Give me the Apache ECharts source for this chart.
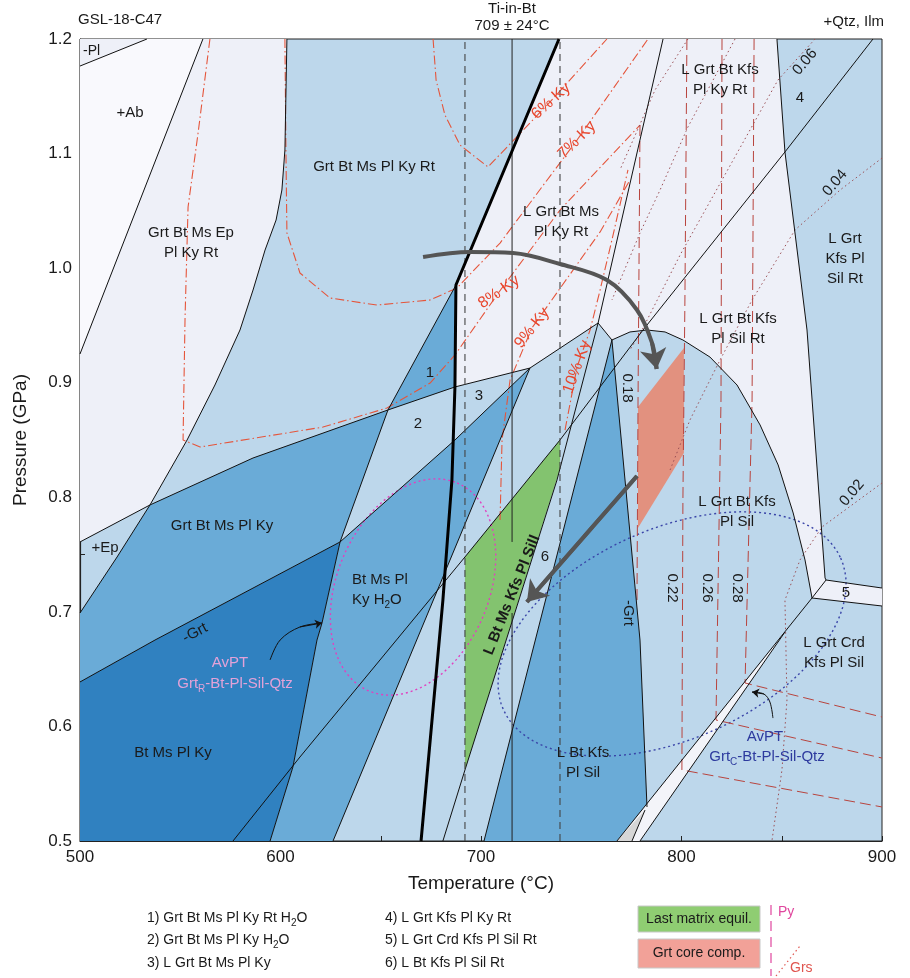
<!DOCTYPE html>
<html>
<head>
<meta charset="utf-8">
<script src="https://cdn.jsdelivr.net/npm/echarts@6/dist/echarts.min.js"></script>
<style>
  html, body { margin: 0; padding: 0; background: #fff; }
  #main { width: 910px; height: 978px; }
</style>
</head>
<body>
<div id="main"></div>
<script>
// axis ticks
const tempTicks = [500, 600, 700, 800, 900];
const pressTicks = [0.5, 0.6, 0.7, 0.8, 0.9, 1.0, 1.1, 1.2];

// field boundaries [T (°C), P (GPa)]
const plLine = [[500, 1.1764], [533.4, 1.2]];
const abLine = [[561.3, 1.2], [500, 0.9251]];
const epOutCurve = [[603.2, 1.2], [602.2, 1.1031], [600.7, 1.0682], [597.8, 1.042], [592.3, 1.0158], [586.3, 0.9809], [579.8, 0.946], [567.3, 0.898], [553.4, 0.85], [534.9, 0.7933], [518.5, 0.7479], [500, 0.699]];
const lineB = [[500, 0.761], [534.9, 0.7933], [586.3, 0.8343], [653.6, 0.8762], [687.0, 0.8963], [724.4, 0.9128], [758.4, 0.9521], [765.3, 0.9373]];
const msOutLine = [[758.4, 0.9521], [790.8, 1.2]];
const betaLine = [[687.5, 0.9853], [653.6, 0.8762], [629.7, 0.761], [620.7, 0.6903], [618.2, 0.6754], [606.2, 0.5646], [594.8, 0.5]];
const gammaLine = [[724.4, 0.9128], [687.0, 0.85], [629.7, 0.761]];
const grtOutLine = [[629.7, 0.761], [537.4, 0.6754], [500, 0.6388]];
const kySilLine = [[895.5, 1.2], [851.6, 1.1014], [780.8, 0.946], [739.4, 0.85], [692.0, 0.7479], [609.7, 0.5733], [576.3, 0.5]];
const deltaLine = [[724.4, 0.9128], [626.2, 0.5]];
const epsLine = [[758.4, 0.9521], [737.9, 0.8151], [692.0, 0.562], [681.0, 0.5]];
const kfsLeftLine = [[765.3, 0.9373], [701.5, 0.5]];
const kfsRightLine = [[765.3, 0.9373], [779.3, 0.6754], [782.8, 0.5297]];
const rtOutArch = [[765.3, 0.9373], [774.3, 0.9443], [782.8, 0.946], [791.8, 0.9443], [800.7, 0.9373], [814.2, 0.9224], [827.7, 0.898], [839.2, 0.8631], [848.2, 0.8282], [855.7, 0.7863], [861.6, 0.7453], [865.1, 0.7121]];
const btOutLine = [[847.6, 1.2], [851.6, 1.1014], [862.6, 0.946], [871.6, 0.7296], [872.1, 0.7278]];
const fiveTop = [[865.1, 0.7121], [872.1, 0.7278], [900, 0.7208]];
const fiveBottom = [[865.1, 0.7121], [900, 0.7051]];
const crdLine1 = [[865.1, 0.7121], [767.8, 0.5]];
const crdLine2 = [[851.6, 0.6824], [779.3, 0.5]];
const crdLine3 = [[775.3, 0.5], [781.8, 0.527]];
const solidusLine = [[738.9, 1.2], [687.5, 0.9853], [687.0, 0.8963], [685.5, 0.8151], [681.0, 0.7103], [670.1, 0.5]];

// field polygons
const abField = [[500, 1.2], [561.3, 1.2], [500, 0.9251]];
const plOutField = [[500, 1.2], [533.4, 1.2], [500, 1.1764]];
const epField = [[561.3, 1.2], [603.2, 1.2], [602.2, 1.1031], [600.7, 1.0682], [597.8, 1.042], [592.3, 1.0158], [586.3, 0.9809], [579.8, 0.946], [567.3, 0.898], [553.4, 0.85], [534.9, 0.7933], [500, 0.761], [500, 0.9251]];
const grtKyField = [[534.9, 0.7933], [586.3, 0.8343], [653.6, 0.8762], [629.7, 0.761], [537.4, 0.6754], [500, 0.6388], [500, 0.699], [518.5, 0.7479]];
const field1 = [[653.6, 0.8762], [687.5, 0.9853], [687.0, 0.8963]];
const btMsKyField = [[500, 0.6388], [537.4, 0.6754], [629.7, 0.761], [620.7, 0.6903], [618.2, 0.6754], [606.2, 0.5646], [594.8, 0.5], [500, 0.5]];
const h2oField = [[629.7, 0.761], [687.0, 0.85], [724.4, 0.9128], [626.2, 0.5], [594.8, 0.5], [606.2, 0.5646], [618.2, 0.6754], [620.7, 0.6903]];
const btKfsField = [[765.3, 0.9373], [701.5, 0.5], [767.8, 0.5], [781.8, 0.527], [782.8, 0.5297], [779.3, 0.6754]];
const matrixField = [[739.4, 0.85], [692.0, 0.7479], [692.0, 0.562], [739.4, 0.8247]];
const msRtField = [[738.9, 1.2], [790.8, 1.2], [758.4, 0.9521], [724.4, 0.9128], [687.0, 0.8963], [687.5, 0.9853]];
const kfsRtField = [[790.8, 1.2], [847.6, 1.2], [851.6, 1.1014], [862.6, 0.946], [871.6, 0.7296], [872.1, 0.7278], [865.1, 0.7121], [861.6, 0.7453], [855.7, 0.7863], [848.2, 0.8282], [839.2, 0.8631], [827.7, 0.898], [814.2, 0.9224], [800.7, 0.9373], [791.8, 0.9443], [782.8, 0.946], [774.3, 0.9443], [765.3, 0.9373], [758.4, 0.9521]];
const field5 = [[865.1, 0.7121], [872.1, 0.7278], [900, 0.7208], [900, 0.7051]];
const crdWedge = [[851.6, 0.6824], [767.8, 0.5], [779.3, 0.5]];
const crdSliver = [[767.8, 0.5], [775.3, 0.5], [781.8, 0.527]];
const grtCoreField = [[778.3, 0.8788], [801.2, 0.9303], [801.2, 0.8386], [778.3, 0.7732]];

// kyanite isopleths (vol%)
const ky6 = [[676.1, 1.2], [677.6, 1.1642], [682.0, 1.1337], [689.5, 1.1075], [703.5, 1.0883], [734.9, 1.1459], [762.8, 1.2]];
const ky7 = [[602.2, 1.2], [602.7, 1.1031], [603.2, 1.0307], [609.7, 0.9958], [624.7, 0.9739], [648.1, 0.9678], [674.6, 0.9722], [688.0, 0.9827], [709.5, 1.0219], [747.9, 1.1118], [783.3, 1.2]];
const ky8 = [[564.8, 1.2], [558.9, 1.118], [553.9, 1.0534], [552.4, 0.9573], [551.4, 0.85], [559.9, 0.8439], [621.2, 0.8613], [653.1, 0.8779], [674.6, 0.8997], [687.0, 0.9242], [709.0, 0.9792], [739.4, 1.0507], [779.3, 1.1249]];
const ky9 = [[709.5, 0.7802], [710.5, 0.85], [714.5, 0.9024], [725.4, 0.9478], [759.4, 1.0316], [774.3, 1.0769]];
const ky10 = [[741.9, 0.8587], [747.9, 0.9137], [754.4, 0.946], [759.4, 0.9809], [765.3, 1.0246], [773.3, 1.0857]];

// pyrope isopleths
const py18 = [[779.3, 1.1249], [778.3, 0.8788], [777.8, 0.7103]];
const py22 = [[802.7, 1.2], [801.7, 0.9722], [800.7, 0.7976], [800.2, 0.562], [900, 0.5297]];
const py26 = [[820.2, 1.2], [819.7, 0.8849], [817.2, 0.6056], [900, 0.5724]];
const py28 = [[836.2, 1.2], [835.2, 0.8849], [831.7, 0.6379], [900, 0.6082]];

// grossular isopleths
const grs06 = [[866.6, 1.2], [848.1, 1.1642], [820.2, 1.0769], [799.3, 1.0115], [780.3, 0.946], [774.3, 0.9286]];
const grs04 = [[900, 1.0961], [879.1, 1.0682], [856.6, 1.0333], [835.2, 0.9722], [819.2, 0.9198], [804.2, 0.8674], [794.3, 0.8238]];
const grs02 = [[900, 0.8125], [870.1, 0.7741], [859.1, 0.7453], [851.6, 0.7103], [852.6, 0.6231], [850.1, 0.562], [845.1, 0.5]];
const grsA = [[826.7, 1.2], [803.2, 1.1232], [789.3, 1.0682], [779.3, 1.0307], [765.3, 0.9722]];
const grsB = [[803.2, 1.2], [786.8, 1.1555], [769.3, 1.0857]];

// Ti-in-Bt temperature and bounds
const tiInBt = 715.5;
const tiInBtRange = [692.0, 739.4];

// AvPT ellipses: centre and two half-axes
const avptRimCentre = [666.1, 0.7217];
const avptRimAxes = [[22.0, 0.0908], [34.9, -0.0259]];
const avptCoreCentre = [795.3, 0.6807];
const avptCoreAxes = [[84.1, 0.0662], [21.5, -0.0836]];

// P-T path arrows
const pathPeak = [[671.1, 1.0097], [694.5, 1.0141], [716.0, 1.0132], [739.4, 1.0036], [762.8, 0.9896], [777.8, 0.9635], [785.3, 0.9347], [787.6, 0.912]];
const pathRetro = [[777.8, 0.8186], [722.9, 0.7086]];
const rimPointer = [[594.8, 0.658], [599.8, 0.6754], [609.7, 0.6868], [620.7, 0.6903]];
const corePointer = [[845.6, 0.6073], [844.1, 0.6213], [841.1, 0.6283], [835.2, 0.63]];

const FONT = '"Liberation Sans", Arial, sans-serif';
const C = {
  ab: '#f9f9fd', lav: '#eef0f8', light: '#bdd7eb', mid: '#6aabd7', dark: '#3081c0',
  green: '#83c36f', salmon: '#e2917f', grey: '#d6d6d6', white: '#f3f4f9'
};

const fills = [
  [abField, C.ab], [plOutField, C.lav], [epField, C.lav], [grtKyField, C.mid],
  [field1, C.mid], [btMsKyField, C.dark], [h2oField, C.mid], [btKfsField, C.mid],
  [msRtField, C.lav], [kfsRtField, C.lav], [field5, C.lav], [crdWedge, C.white],
  [crdSliver, C.grey], [matrixField, C.green], [grtCoreField, C.salmon]
];

const series = [];

fills.forEach(function (f) {
  const pts = f[0];
  series.push({
    type: 'custom', coordinateSystem: 'cartesian2d', silent: true, z: 1,
    data: [pts[0]],
    renderItem: function (params, api) {
      return {
        type: 'polygon',
        shape: { points: pts.map(function (p) { return api.coord(p); }) },
        style: { fill: f[1] }
      };
    }
  });
});

function addLine(data, color, width, type, z) {
  series.push({
    type: 'line', data: data, symbol: 'none', silent: true, z: z || 4,
    lineStyle: { color: color, width: width, type: type || 'solid' }
  });
}

// isopleths
[ky6, ky7, ky8, ky9, ky10].forEach(function (d) { addLine(d, '#e5553b', 1.1, [9, 3, 1.5, 3], 3); });
[py18, py22, py26, py28].forEach(function (d) { addLine(d, '#b8443e', 1, [11, 5], 3); });
[grs06, grs04, grs02, grsA, grsB].forEach(function (d) { addLine(d, '#9a4f55', 1, [1.5, 3], 3); });

// boundaries
[plLine, abLine, epOutCurve, lineB, msOutLine, betaLine, gammaLine, grtOutLine, kySilLine,
 deltaLine, epsLine, kfsLeftLine, kfsRightLine, rtOutArch, btOutLine, fiveTop, fiveBottom,
 crdLine1, crdLine2, crdLine3].forEach(function (d) { addLine(d, '#111', 1); });
addLine(solidusLine, '#000', 3, 'solid', 5);

// Ti-in-Bt lines
addLine([[tiInBt, 1.2], [tiInBt, 0.761]], '#222', 1);
addLine([[tiInBt, 0.699], [tiInBt, 0.5]], '#222', 1);
tiInBtRange.forEach(function (t) { addLine([[t, 0.5], [t, 1.2]], '#444', 1.1, [7, 5]); });

function ellipse(centre, axes, color) {
  series.push({
    type: 'custom', coordinateSystem: 'cartesian2d', silent: true, z: 3,
    data: [centre],
    renderItem: function (params, api) {
      const pts = [];
      for (let k = 0; k <= 96; k++) {
        const a = k / 96 * Math.PI * 2, c = Math.cos(a), s = Math.sin(a);
        pts.push(api.coord([centre[0] + c * axes[0][0] + s * axes[1][0], centre[1] + c * axes[0][1] + s * axes[1][1]]));
      }
      return { type: 'polyline', shape: { points: pts }, style: { stroke: color, lineWidth: 1.4, lineDash: [2, 3], fill: null } };
    }
  });
}
ellipse(avptRimCentre, avptRimAxes, '#e23fbf');
ellipse(avptCoreCentre, avptCoreAxes, '#3a45a8');

// arrow: body as a (smoothed) line, head on the last segment
function arrow(coords, color, width, size) {
  series.push({
    type: 'line', data: coords, symbol: 'none', silent: true, z: 6, smooth: 0.35,
    lineStyle: { color: color, width: width }
  });
  series.push({
    type: 'lines', coordinateSystem: 'cartesian2d', silent: true, z: 6,
    symbol: ['none', 'arrow'], symbolSize: size,
    lineStyle: { color: color, width: width, opacity: 1 },
    data: [{ coords: coords.slice(-2) }]
  });
}
arrow(pathPeak, '#555', 4, 20);
arrow(pathRetro, '#555', 4, 20);
arrow(rimPointer, '#111', 1, 7);
arrow(corePointer, '#111', 1, 7);

// annotation text
function txt(x, y, text, o) {
  o = o || {};
  const size = o.size || 15;
  const align = o.align || 'center';
  return {
    type: 'text', x: x, y: y, z: 100, rotation: (o.rot || 0) * Math.PI / 180,
    style: {
      text: text, fill: o.color || '#1a1a1a',
      font: (o.bold ? 'bold ' : '') + size + 'px ' + FONT,
      align: align, textAlign: align, verticalAlign: 'middle', textVerticalAlign: 'middle',
      lineHeight: o.lh || 20,
      rich: { sub: { fontSize: 10, fontFamily: FONT, fill: o.color || '#1a1a1a', verticalAlign: 'bottom', lineHeight: 12 } }
    }
  };
}
const red = '#e8452c', pink = '#e3a2d8', navy = '#2d3a9e';

const graphics = [
  txt(78, 20, 'GSL-18-C47', { align: 'left' }),
  txt(512, 9, 'Ti-in-Bt'),
  txt(512, 26, '709 ± 24°C'),
  txt(884, 22, '+Qtz, Ilm', { align: 'right' }),
  txt(83, 51, '-Pl', { align: 'left', size: 14 }),
  txt(130, 113, '+Ab'),
  txt(191, 243, 'Grt Bt Ms Ep\nPl Ky Rt'),
  txt(374, 167, 'Grt Bt Ms Pl Ky Rt'),
  txt(561, 222, 'L Grt Bt Ms\nPl Ky Rt'),
  txt(720, 80, 'L Grt Bt Kfs\nPl Ky Rt'),
  txt(800, 98, '4'),
  txt(845, 259, 'L Grt\nKfs Pl\nSil Rt'),
  txt(738, 329, 'L Grt Bt Kfs\nPl Sil Rt'),
  txt(430, 373, '1'),
  txt(418, 424, '2'),
  txt(479, 396, '3'),
  txt(222, 526, 'Grt Bt Ms Pl Ky'),
  txt(105, 548, '+Ep'),
  txt(195, 633, '-Grt', { rot: 28 }),
  txt(352, 590, 'Bt Ms Pl\nKy H{sub|2}O', { align: 'left' }),
  txt(230, 663, 'AvPT', { color: pink }),
  txt(235, 684, 'Grt{sub|R}-Bt-Pl-Sil-Qtz', { color: pink }),
  txt(173, 753, 'Bt Ms Pl Ky'),
  txt(512, 595, 'L Bt Ms Kfs Pl Sill', { bold: true, rot: 68 }),
  txt(545, 557, '6'),
  txt(627, 388, '0.18', { rot: -90 }),
  txt(628, 613, '-Grt', { rot: -90 }),
  txt(737, 512, 'L Grt Bt Kfs\nPl Sil'),
  txt(672, 588, '0.22', { rot: -90 }),
  txt(707, 588, '0.26', { rot: -90 }),
  txt(737, 588, '0.28', { rot: -90 }),
  txt(805, 62, '0.06', { rot: 50 }),
  txt(835, 183, '0.04', { rot: 50 }),
  txt(852, 493, '0.02', { rot: 50 }),
  txt(846, 593, '5'),
  txt(834, 653, 'L Grt Crd\nKfs Pl Sil'),
  txt(765, 737, 'AvPT', { color: navy }),
  txt(767, 757, 'Grt{sub|C}-Bt-Pl-Sil-Qtz', { color: navy }),
  txt(583, 763, 'L Bt Kfs\nPl Sil'),
  txt(551, 101, '6% Ky', { color: red, rot: 42, size: 16 }),
  txt(577, 140, '7% Ky', { color: red, rot: 45, size: 16 }),
  txt(499, 292, '8% Ky', { color: red, rot: 35, size: 16 }),
  txt(532, 328, '9% Ky', { color: red, rot: 52, size: 16 }),
  txt(577, 367, '10% Ky', { color: red, rot: 70, size: 16 }),
  // footnote key
  txt(147, 918, '1) Grt Bt Ms Pl Ky Rt H{sub|2}O', { align: 'left', size: 14 }),
  txt(147, 940, '2) Grt Bt Ms Pl Ky H{sub|2}O', { align: 'left', size: 14 }),
  txt(147, 963, '3) L Grt Bt Ms Pl Ky', { align: 'left', size: 14 }),
  txt(385, 918, '4) L Grt Kfs Pl Ky Rt', { align: 'left', size: 14 }),
  txt(385, 940, '5) L Grt Crd Kfs Pl Sil Rt', { align: 'left', size: 14 }),
  txt(385, 963, '6) L Bt Kfs Pl Sil Rt', { align: 'left', size: 14 }),
  { type: 'rect', shape: { x: 638, y: 906, width: 122, height: 26 }, style: { fill: '#8fcd72', stroke: '#c8c8c8' }, z: 99 },
  { type: 'rect', shape: { x: 638, y: 939, width: 122, height: 29 }, style: { fill: '#f2a198', stroke: '#c8c8c8' }, z: 99 },
  txt(699, 919, 'Last matrix equil.', { size: 14 }),
  txt(699, 953, 'Grt core comp.', { size: 14 }),
  { type: 'line', shape: { x1: 771, y1: 905, x2: 771, y2: 976 }, style: { stroke: '#e0479e', lineWidth: 1.2, lineDash: [10, 6] }, z: 99 },
  txt(778, 912, 'Py', { align: 'left', size: 14, color: '#e0479e' }),
  { type: 'line', shape: { x1: 776, y1: 976, x2: 800, y2: 946 }, style: { stroke: '#e0554f', lineWidth: 1.2, lineDash: [1.5, 3] }, z: 99 },
  txt(790, 968, 'Grs', { align: 'left', size: 14, color: '#e0554f' })
];

const option = {
  animation: false,
  backgroundColor: '#fff',
  grid: { left: 80, right: 28, top: 39, bottom: 137, show: true, backgroundColor: C.light, borderColor: '#222', borderWidth: 1 },
  xAxis: {
    type: 'value', min: tempTicks[0], max: tempTicks[tempTicks.length - 1], interval: 50,
    name: 'Temperature (°C)', nameLocation: 'middle', nameGap: 33,
    nameTextStyle: { fontSize: 19, color: '#1a1a1a', fontFamily: FONT },
    axisLine: { lineStyle: { color: '#222', width: 1.2 } },
    axisTick: { inside: true, length: 5, lineStyle: { color: '#222' } },
    axisLabel: { fontSize: 17, color: '#1a1a1a', fontFamily: FONT, margin: 8,
      formatter: function (v) { return tempTicks.indexOf(v) >= 0 ? String(v) : ''; } },
    splitLine: { show: false }
  },
  yAxis: {
    type: 'value', min: pressTicks[0], max: pressTicks[pressTicks.length - 1], interval: 0.05,
    name: 'Pressure (GPa)', nameLocation: 'middle', nameGap: 50,
    nameTextStyle: { fontSize: 19, color: '#1a1a1a', fontFamily: FONT },
    axisLine: { lineStyle: { color: '#222', width: 1.2 } },
    axisTick: { inside: true, length: 5, lineStyle: { color: '#222' } },
    axisLabel: { fontSize: 17, color: '#1a1a1a', fontFamily: FONT, margin: 8,
      formatter: function (v) { const k = Math.round(v * 100); return k % 10 === 0 ? (k / 100).toFixed(1) : ''; } },
    splitLine: { show: false }
  },
  graphic: graphics,
  series: series
};

const chart = echarts.init(document.getElementById('main'));
chart.setOption(option);
window.addEventListener('resize', function () { chart.resize(); });
</script>
</body>
</html>
